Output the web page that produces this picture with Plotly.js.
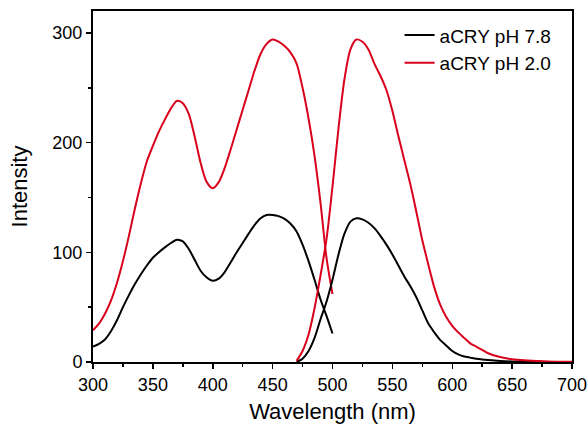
<!DOCTYPE html>
<html>
<head>
<meta charset="utf-8">
<script src="https://cdn.plot.ly/plotly-3.0.1.min.js"></script>
<style>
html,body{margin:0;padding:0;background:#fff;}
#chart{width:587px;height:426px;}
</style>
</head>
<body>
<div id="chart"></div>
<script>
// Excitation spectra (300-500 nm)
const excWavelength = [300,305,310,315,320,325,330,335,340,345,350,355,360,365,370,375,380,385,390,395,400,405,410,415,420,425,430,435,440,445,450,455,460,465,470,475,480,485,490,495,500];
const excPH78 = [14,16.5,20.5,28,38,50,61,71,80,88,95,100,104.5,108.5,111.5,110,103,93,83,77,74,76,82,91,100,108.5,117,125,131,134,134,133,130.5,126,119,107,92,75,57,42,26];
const excPH20 = [29,35,44,56,72,92,115,140,163,183,197,210,221,231,238,236,226,205,181,164,158.5,164,177,194,212,230,248,266,281,290,294,292,288,282,272,250,222,188,145,95,62];

// Emission spectra (470-700 nm)
const emWavelength = [470,475,480,485,490,495,500,505,510,515,520,525,530,535,540,545,550,555,560,565,570,575,580,585,590,595,600,605,610,615,620,625,630,640,650,660,670,680,690,700];
const emPH78 = [0,3,10,22,39,55,75,98,117,128,131,130,127,122,115,107,98,88,78,69,59,47,35,27,20,15,10,7,5,4,3,2.3,1.8,1,0.5,0.3,0.2,0.1,0.05,0];
const emPH20 = [1,10,25,49,79,112,160,213,258,285,294,292,285,272,261,248,229,206,184,162,137,111,89,68,52,41,33,27,22,17,14,11,8,4.5,2.5,1.5,1,0.5,0.3,0.2];

const seriesNames = ["aCRY pH 7.8", "aCRY pH 2.0"];
const colBlack = "#000000";
const colRed = "#d9001b";

const lineStyle = (c) => ({color: c, width: 2, shape: "spline", smoothing: 0.8});

const traces = [
  {x: excWavelength, y: excPH78, name: seriesNames[0], showlegend: true, mode: "lines", line: lineStyle(colBlack)},
  {x: excWavelength, y: excPH20, name: seriesNames[1], showlegend: true, mode: "lines", line: lineStyle(colRed)},
  {x: emWavelength, y: emPH78, name: seriesNames[0], showlegend: false, mode: "lines", line: lineStyle(colBlack)},
  {x: emWavelength, y: emPH20, name: seriesNames[1], showlegend: false, mode: "lines", line: lineStyle(colRed)}
];

const fontFam = "Liberation Sans, Arial, sans-serif";

const layout = {
  width: 587, height: 426,
  margin: {l: 93, r: 15, t: 11, b: 64},
  paper_bgcolor: "#fff", plot_bgcolor: "#fff",
  font: {family: fontFam, color: "#000", size: 18},
  showlegend: true,
  legend: {x: 0.64, y: 0.985, xanchor: "left", yanchor: "top", bgcolor: "rgba(0,0,0,0)",
           font: {size: 19, family: fontFam}, tracegroupgap: 0, itemwidth: 30, traceorder: "normal"},
  xaxis: {
    range: [300, 700], tickvals: [300,350,400,450,500,550,600,650,700],
    ticklabeloverflow: "allow",
    ticks: "outside", ticklen: 5, tickwidth: 1.5, tickcolor: "#000",
    minor: {dtick: 25, ticks: "outside", ticklen: 3, tickwidth: 1.5, tickcolor: "#000", showgrid: false},
    showline: true, linecolor: "#000", linewidth: 2, mirror: true,
    showgrid: false, zeroline: false,
    tickfont: {size: 18},
    title: {text: "Wavelength (nm)", font: {size: 22}, standoff: 10}
  },
  yaxis: {
    range: [0, 320], tickvals: [0,100,200,300],
    ticks: "outside", ticklen: 5, tickwidth: 1.5, tickcolor: "#000",
    minor: {tickvals: [50,150,250], ticks: "outside", ticklen: 3, tickwidth: 1.5, tickcolor: "#000", showgrid: false},
    showline: true, linecolor: "#000", linewidth: 2, mirror: true,
    showgrid: false, zeroline: false,
    tickfont: {size: 18},
    title: {text: "Intensity", font: {size: 22}, standoff: 19}
  }
};

Plotly.newPlot("chart", traces, layout, {displayModeBar: false, staticPlot: true});
</script>
</body>
</html>
